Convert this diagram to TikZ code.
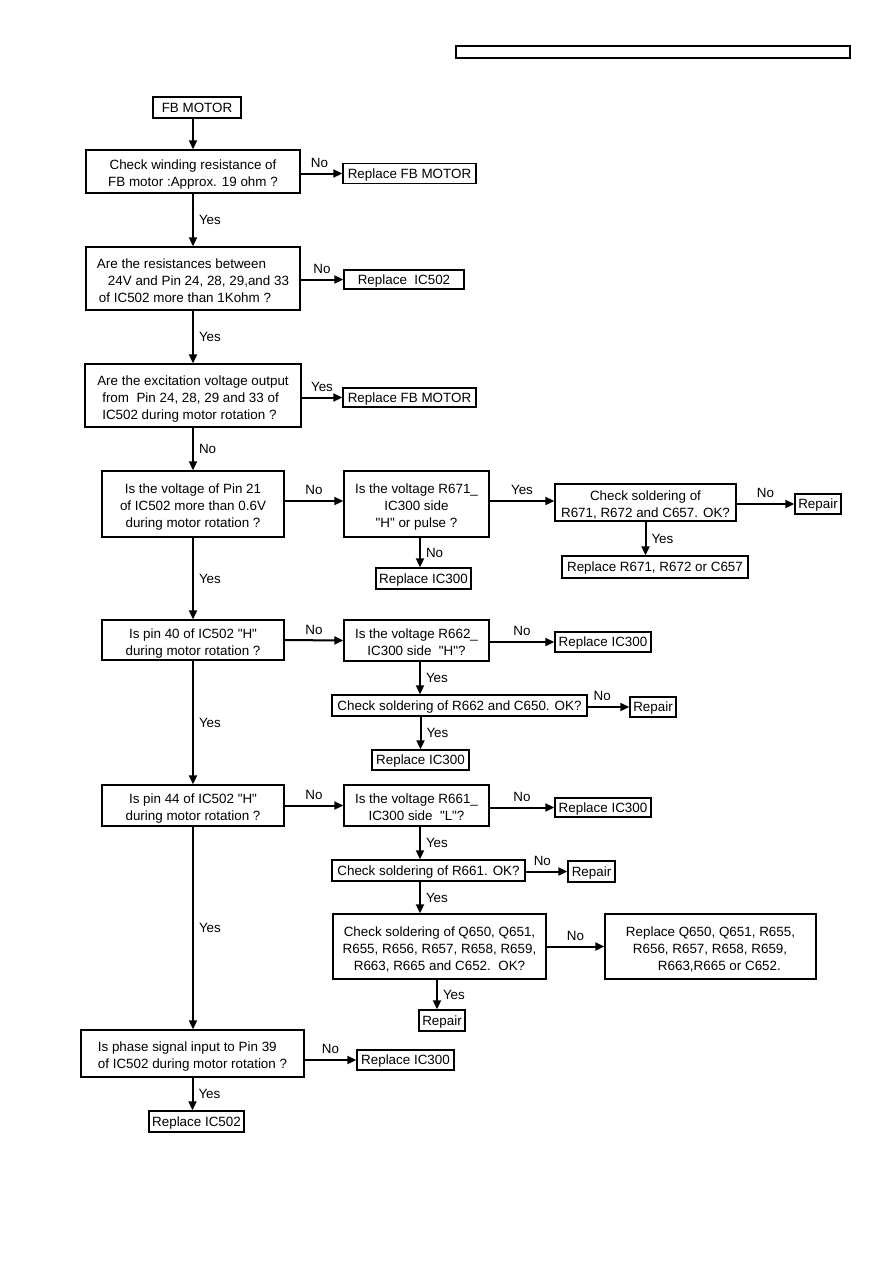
\documentclass[tikz,border=0pt]{standalone}
\usepackage{fontspec}
\setmainfont{Liberation Sans}[Ligatures=TeXOff]
\usetikzlibrary{arrows.meta,positioning}
\newcommand\bt[2][c]{\raisebox{-7pt}[0pt][0pt]{\begin{tabular}{@{}#1@{}}#2\end{tabular}}}
\newcommand\bts[1]{\raisebox{-5pt}[0pt][0pt]{\begin{tabular}{@{}c@{}}#1\end{tabular}}}
\tikzset{
  bx/.style={draw, line width=1.4pt, inner sep=2pt,
    font=\fontsize{13.4pt}{17pt}\selectfont},
  arr/.style={line width=2pt, -{Triangle[length=9pt,width=8pt]}},
  lab/.style={inner sep=1pt, font=\fontsize{13.4pt}{17pt}\selectfont},
  hlab/.style={lab, above=4pt},
  vlab/.style={lab, right=4pt}
}
\begin{document}
\begin{tikzpicture}[x=1pt,y=-1pt]
\path[use as bounding box] (0,0) rectangle (893,1263);
% header
\node[draw, line width=1.8pt, minimum width=394pt, minimum height=12pt, inner sep=0pt] (hdr) at (653,52) {};
% boxes
\node[bx, minimum width=88pt, minimum height=21pt] (b0) at (197,107.5) {\bts{FB MOTOR}};
\node[bx, minimum width=214pt, minimum height=43pt] (b1) at (193,171.5) {\bt{Check winding resistance of\\FB motor :Approx. 19 ohm ?}};
\node[bx, minimum width=133pt, minimum height=20pt] (r1) at (409.5,173.5) {\bts{Replace FB MOTOR}};
\node[bx, minimum width=214pt, minimum height=63pt] (b2) at (193,278.5) {\bt[l]{Are the resistances between\\\hspace*{11pt}24V and Pin 24, 28, 29,and 33\\\hspace*{2pt}of IC502 more than 1Kohm ?}};
\node[bx, minimum width=120pt, minimum height=19pt] (r2) at (404,279.5) {\bts{Replace\ \ IC502}};
\node[bx, minimum width=216pt, minimum height=63pt] (b3) at (193,395.5) {\bt[l]{Are the excitation voltage output\\\hspace*{5pt}from\ \ Pin 24, 28, 29 and 33 of\\\hspace*{5pt}IC502 during motor rotation ?}};
\node[bx, minimum width=133pt, minimum height=19pt] (r3) at (409.5,397.5) {\bts{Replace FB MOTOR}};
\node[bx, minimum width=182pt, minimum height=66pt] (b4) at (193,504) {\bt{Is the voltage of Pin 21\\of IC502 more than 0.6V\\during motor rotation ?}};
\node[bx, minimum width=145pt, minimum height=66pt] (b5) at (416.5,504) {\bt{Is the voltage R671\_\\IC300 side\\"H" or pulse ?}};
\node[bx, minimum width=181pt, minimum height=37pt] (b6) at (645.5,502.5) {\bt{Check soldering of\\R671, R672 and C657. OK?}};
\node[bx, minimum width=46pt, minimum height=20pt] (r6) at (818,504) {\bts{Repair}};
\node[bx, minimum width=186pt, minimum height=22pt] (r6b) at (655,567) {\bts{Replace R671, R672 or C657}};
\node[bx, minimum width=95pt, minimum height=21pt] (r5) at (423.5,578.5) {\bts{Replace IC300}};
\node[bx, minimum width=182pt, minimum height=40pt] (b7) at (193,640) {\bt{Is pin 40 of IC502 "H"\\during motor rotation ?}};
\node[bx, minimum width=145pt, minimum height=41pt] (b8) at (416.5,640.5) {\bt{Is the voltage R662\_\\IC300 side\ \ "H"?}};
\node[bx, minimum width=96pt, minimum height=20pt] (r8) at (603,642) {\bts{Replace IC300}};
\node[bx, minimum width=255pt, minimum height=21pt] (b9) at (459.5,705.5) {\bts{Check soldering of R662 and C650. OK?}};
\node[bx, minimum width=46pt, minimum height=20pt] (r9) at (653,707) {\bts{Repair}};
\node[bx, minimum width=97pt, minimum height=20pt] (r9b) at (420.5,760) {\bts{Replace IC300}};
\node[bx, minimum width=182pt, minimum height=41pt] (b10) at (193,805.5) {\bt{Is pin 44 of IC502 "H"\\during motor rotation ?}};
\node[bx, minimum width=145pt, minimum height=41pt] (b11) at (416.5,805.5) {\bt{Is the voltage R661\_\\IC300 side\ \ "L"?}};
\node[bx, minimum width=96pt, minimum height=19pt] (r11) at (603,807.5) {\bts{Replace IC300}};
\node[bx, minimum width=193pt, minimum height=21pt] (b12) at (428.5,870.5) {\bts{Check soldering of R661. OK?}};
\node[bx, minimum width=47pt, minimum height=21pt] (r12) at (591.5,871.5) {\bts{Repair}};
\node[bx, minimum width=213pt, minimum height=65pt] (b13) at (439.5,946.5) {\bt{Check soldering of Q650, Q651,\\R655, R656, R657, R658, R659,\\R663, R665 and C652.\ \ OK?}};
\node[bx, minimum width=211pt, minimum height=65pt] (b14) at (710.5,946.5) {\bt[l]{Replace Q650, Q651, R655,\\\hspace*{7pt}R656, R657, R658, R659,\\\hspace*{32pt}R663,R665 or C652.}};
\node[bx, minimum width=46pt, minimum height=21pt] (r13) at (442,1020.5) {\bts{Repair}};
\node[bx, minimum width=223pt, minimum height=47pt] (b15) at (192.5,1053.5) {\bt[l]{Is phase signal input to Pin 39\\of IC502 during motor rotation ?}};
\node[bx, minimum width=97pt, minimum height=20pt] (r15) at (405.5,1060) {\bts{Replace IC300}};
\node[bx, minimum width=95pt, minimum height=21pt] (r15b) at (196.5,1121.5) {\bts{Replace IC502}};
% vertical main arrows
\draw[arr] (b0.south -| b1.north) -- (b1.north);
\draw[arr] (b1.south) -- node[vlab]{Yes} (b2.north);
\draw[arr] (b2.south) -- node[vlab]{Yes} (b3.north);
\draw[arr] (b3.south) -- node[vlab]{No} (b4.north);
\draw[arr] (b4.south) -- node[vlab]{Yes} (b7.north);
\draw[arr] (b7.south) -- node[vlab]{Yes} (b10.north);
\draw[arr] (b10.south) -- node[vlab]{Yes} (b15.north -| b10.south);
\draw[arr] (b15.south) -- node[vlab]{Yes} (b15.south |- r15b.north);
% branch arrows
\draw[arr] (b1.east |- r1.west) -- node[hlab, pos=0.45]{No} (r1.west);
\draw[arr] (b2.east |- r2.west) -- node[hlab]{No} (r2.west);
\draw[arr] (b3.east |- r3.west) -- node[hlab]{Yes} (r3.west);
\draw[arr] ([yshift=3pt]b4.east) -- node[hlab]{No} ([yshift=3pt]b5.west);
\draw[arr] ([yshift=3pt]b5.east) -- node[hlab]{Yes} ([yshift=3pt]b5.east -| b6.west);
\draw[arr] (b6.east |- r6.west) -- node[hlab]{No} (r6.west);
\draw[arr] (b6.south) -- node[vlab]{Yes} (b6.south |- r6b.north);
\draw[arr] ([xshift=3.5pt]b5.south) -- node[vlab]{No} ([xshift=3.5pt]b5.south |- r5.north);
\draw[arr] (b7.east) -- node[hlab]{No} (b8.west);
\draw[arr] (b8.east |- r8.west) -- node[hlab]{No} (r8.west);
\draw[arr] ([xshift=3.5pt]b8.south) -- node[vlab]{Yes} ([xshift=3.5pt]b8.south |- b9.north);
\draw[arr] (b9.east |- r9.west) -- node[hlab, pos=0.35]{No} (r9.west);
\draw[arr] (r9b.north |- b9.south) -- node[vlab]{Yes} (r9b.north);
\draw[arr] (b10.east) -- node[hlab]{No} (b11.west);
\draw[arr] (b11.east |- r11.west) -- node[hlab]{No} (r11.west);
\draw[arr] ([xshift=3.5pt]b11.south) -- node[vlab]{Yes} ([xshift=3.5pt]b11.south |- b12.north);
\draw[arr] (b12.east |- r12.west) -- node[hlab, pos=0.4]{No} (r12.west);
\draw[arr] ([xshift=-8.5pt]b12.south) -- node[vlab]{Yes} ([xshift=-8.5pt]b12.south |- b13.north);
\draw[arr] (b13.east) -- node[hlab]{No} (b14.west);
\draw[arr] ([xshift=-2.5pt]b13.south) -- node[vlab]{Yes} ([xshift=-2.5pt]b13.south |- r13.north);
\draw[arr] (b15.east |- r15.west) -- node[hlab]{No} (r15.west);
\end{tikzpicture}
\end{document}
